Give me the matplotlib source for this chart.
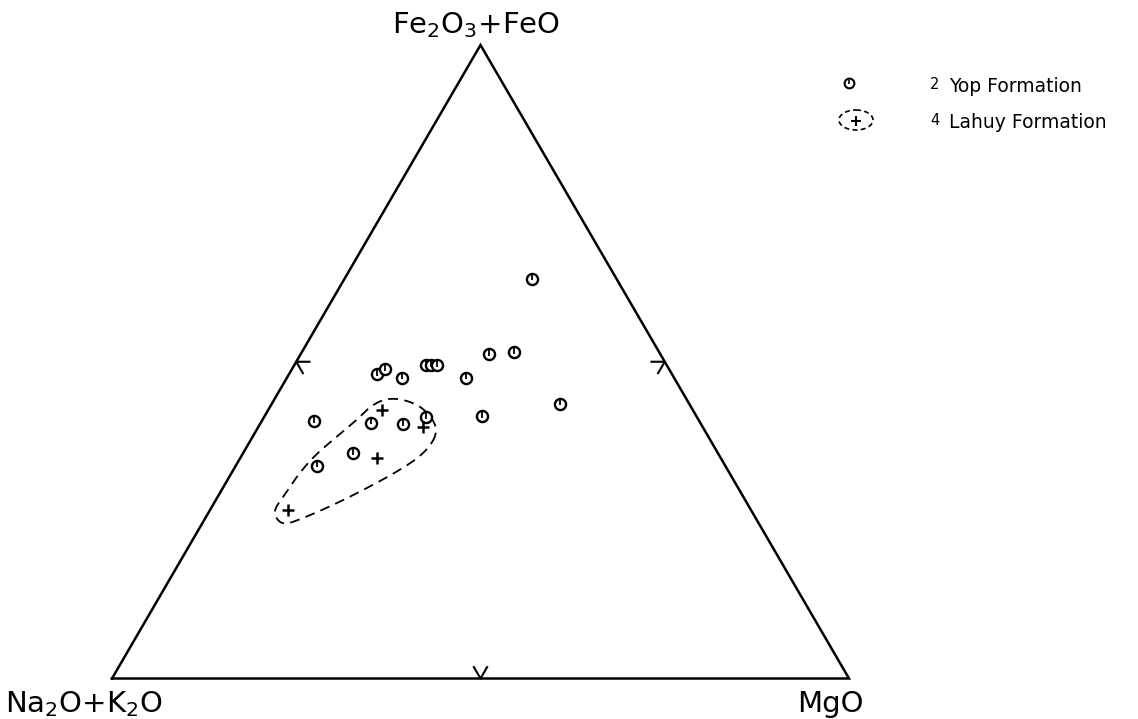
import numpy as np
import matplotlib
matplotlib.use('Agg')
import matplotlib.pyplot as plt
from matplotlib.patches import Ellipse

# Ternary compositions (fractions): Fe2O3+FeO and MgO; Na2O+K2O is the remainder
yop_fe = [0.631, 0.512, 0.515, 0.481, 0.488, 0.475, 0.495, 0.495, 0.495,
          0.475, 0.434, 0.414, 0.406, 0.404, 0.401, 0.412, 0.356, 0.336]
yop_mg = [0.254, 0.256, 0.288, 0.119, 0.127, 0.156, 0.179, 0.185, 0.193,
          0.2425, 0.391, 0.295, 0.071, 0.149, 0.194, 0.2196, 0.149, 0.110]
lahuy_fe = [0.424, 0.397, 0.3485, 0.266]
lahuy_mg = [0.154, 0.223, 0.185, 0.106]

# Hand-drawn envelope around the Lahuy Formation samples
env_fe = [0.392, 0.374, 0.350, 0.326, 0.303, 0.2766, 0.253, 0.242, 0.255, 0.2687,
          0.287, 0.3186, 0.350, 0.3817, 0.408, 0.429, 0.4407, 0.442, 0.437, 0.4265, 0.408]
env_mg = [0.2446, 0.249, 0.243, 0.223, 0.1985, 0.167, 0.133, 0.1114, 0.0935, 0.0867,
          0.089, 0.0913, 0.098, 0.114, 0.128, 0.1355, 0.148, 0.165, 0.186, 0.209, 0.232]

vertex_labels = [r"Fe$_2$O$_3$+FeO", r"Na$_2$O+K$_2$O", "MgO"]
legend_ids = ["2", "4"]
legend_labels = ["Yop Formation", "Lahuy Formation"]


def tern(fe, mg):
    fe = np.asarray(fe, float)
    mg = np.asarray(mg, float)
    return mg + fe / 2.0, fe


def chaikin(x, y, n=3):
    pts = np.column_stack([x, y])
    for _ in range(n):
        nxt = np.roll(pts, -1, axis=0)
        q = 0.75 * pts + 0.25 * nxt
        r = 0.25 * pts + 0.75 * nxt
        pts = np.empty((2 * len(q), 2))
        pts[0::2] = q
        pts[1::2] = r
    pts = np.vstack([pts, pts[:1]])
    return pts[:, 0], pts[:, 1]


fig = plt.figure(figsize=(11.38, 7.19), dpi=100)
ax = fig.add_axes([0, 0, 1, 1])
ax.set_xlim(-112 / 737, (1138 - 112) / 737)
ax.set_ylim(-40.5 / 633.5, 678.5 / 633.5)
ax.axis('off')

lw = 1.8
# triangle
tx, ty = tern([0, 0, 1, 0], [0, 1, 0, 0])
ax.plot(tx, ty, color='black', lw=lw, solid_joinstyle='miter')

# midpoint ticks
d = 0.018
ticks = [
    ([0.5, 0.5, 0.5 - d], [d, 0, d]),            # left edge
    ([0.5, 0.5, 0.5 - d], [0.5 - d, 0.5, 0.5]),  # right edge
    ([d, 0, d], [0.5 - d, 0.5, 0.5]),            # base
]
for fe, mg in ticks:
    x, y = tern(fe, mg)
    ax.plot(x, y, color='black', lw=1.5)

# envelope
ex, ey = tern(env_fe, env_mg)
sx, sy = chaikin(ex, ey, 3)
ax.plot(sx, sy, color='black', lw=1.3, linestyle=(0, (5.5, 3.5)))

# data
yx, yy = tern(yop_fe, yop_mg)
ax.plot(yx, yy, linestyle='none', marker='o', ms=8, mfc='white', mec='black', mew=1.7)
ax.plot(yx, yy + 0.002, linestyle='none', marker='|', ms=4, mec='black', mew=1.3)
lx, ly = tern(lahuy_fe, lahuy_mg)
ax.plot(lx, ly, linestyle='none', marker='+', ms=9, mec='black', mew=1.8)

# vertex labels
vx, vy = tern([1, 0, 0], [0, 0, 1])
ax.annotate(vertex_labels[0], xy=(vx[0], vy[0]), xytext=(-4, 12), textcoords='offset pixels',
            ha='center', va='baseline', fontsize=21)
ax.annotate(vertex_labels[1], xy=(vx[1], vy[1]), xytext=(-28, -34), textcoords='offset pixels',
            ha='center', va='baseline', fontsize=21)
ax.annotate(vertex_labels[2], xy=(vx[2], vy[2]), xytext=(-19, -34), textcoords='offset pixels',
            ha='center', va='baseline', fontsize=21)

# legend (figure pixel coordinates)
W, H = 1138, 719
lax = fig.add_axes([0, 0, 1, 1], facecolor='none')
lax.set_xlim(0, W)
lax.set_ylim(H, 0)
lax.axis('off')
lax.plot([849], [83], linestyle='none', marker='o', ms=7, mfc='white', mec='black', mew=1.5)
lax.plot([849], [82], linestyle='none', marker='|', ms=3.5, mec='black', mew=1.2)
lax.plot([856], [121], linestyle='none', marker='+', ms=7, mec='black', mew=1.5)
lax.add_patch(Ellipse((856, 120), 34, 20, fill=False, ec='black', lw=1.2, linestyle=(0, (3, 2))))
for i, (num, lab) in enumerate(zip(legend_ids, legend_labels)):
    yb = 92 + 36 * i
    lax.text(930, yb - 3, num, fontsize=10.5, va='baseline', ha='left')
    lax.text(949, yb, lab, fontsize=13.5, va='baseline', ha='left')

fig.savefig('out.png', dpi=100, facecolor='white')
